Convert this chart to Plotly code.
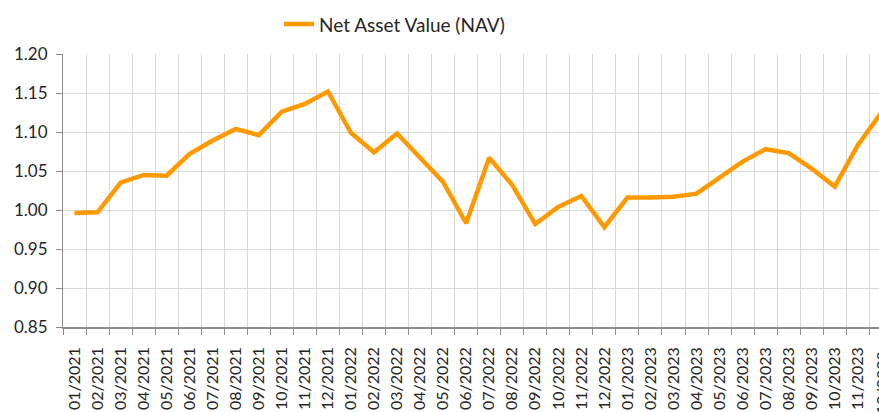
import plotly.graph_objects as go

months = [f"{m:02d}/{y}" for y in (2021, 2022, 2023) for m in range(1, 13)]
nav = [0.996, 0.997, 1.035, 1.045, 1.044, 1.072, 1.089, 1.104, 1.096, 1.126, 1.136, 1.152,
       1.099, 1.074, 1.098, 1.067, 1.036, 0.983, 1.067, 1.032, 0.982, 1.004, 1.018, 0.978,
       1.016, 1.016, 1.017, 1.021, 1.042, 1.062, 1.078, 1.073, 1.053, 1.030, 1.083, 1.124]
series_name = "Net Asset Value (NAV)"
y_ticks = [0.85, 0.90, 0.95, 1.00, 1.05, 1.10, 1.15, 1.20]

FONT = "Lato"
TXT = "#262626"

fig = go.Figure()
fig.add_trace(go.Scatter(x=months, y=nav, mode="lines", name=series_name,
                         line=dict(color="#ff9900", width=4.5), showlegend=True))

fig.update_layout(
    width=879, height=412,
    margin=dict(l=63, r=0, t=54, b=85, autoexpand=False),
    paper_bgcolor="white", plot_bgcolor="white",
    font=dict(family=FONT, size=17, color=TXT),
    showlegend=True,
    legend=dict(orientation="h", x=0.2647, xanchor="left", y=1.109, yanchor="middle",
                font=dict(family=FONT, size=19, color=TXT), bgcolor="rgba(0,0,0,0)"),
    xaxis=dict(type="category", categoryorder="array", categoryarray=months,
               range=[-0.5, 34.92], tickson="boundaries", showgrid=True,
               gridcolor="#d9d9d9", gridwidth=1, ticks="outside", ticklen=6,
               tickcolor="#8c8c8c", showline=True, linecolor="#8c8c8c", linewidth=1.5,
               tickangle=-90, ticklabelstandoff=12, tickfont=dict(size=16, color=TXT),
               automargin=False),
    yaxis=dict(range=[0.85, 1.20], tickvals=y_ticks, tickformat=".2f", showgrid=True,
               gridcolor="#d9d9d9", gridwidth=1, ticks="outside", ticklen=6,
               tickcolor="#8c8c8c", showline=True, linecolor="#8c8c8c", linewidth=1,
               zeroline=False, ticklabelstandoff=5, tickfont=dict(size=17, color=TXT),
               automargin=False),
)

# last category label, partially cut by the right page edge as in the reference
fig.add_annotation(x=(35 + 0.5) / 35.42, xref="paper", y=-0.08, yref="paper",
                   text=months[-1], textangle=-90, showarrow=False,
                   xanchor="center", yanchor="top", font=dict(size=16, color=TXT))

fig.write_html("out.html", config={"displayModeBar": False},
               post_script="document.body.style.margin='0';document.body.style.overflow='hidden';")
